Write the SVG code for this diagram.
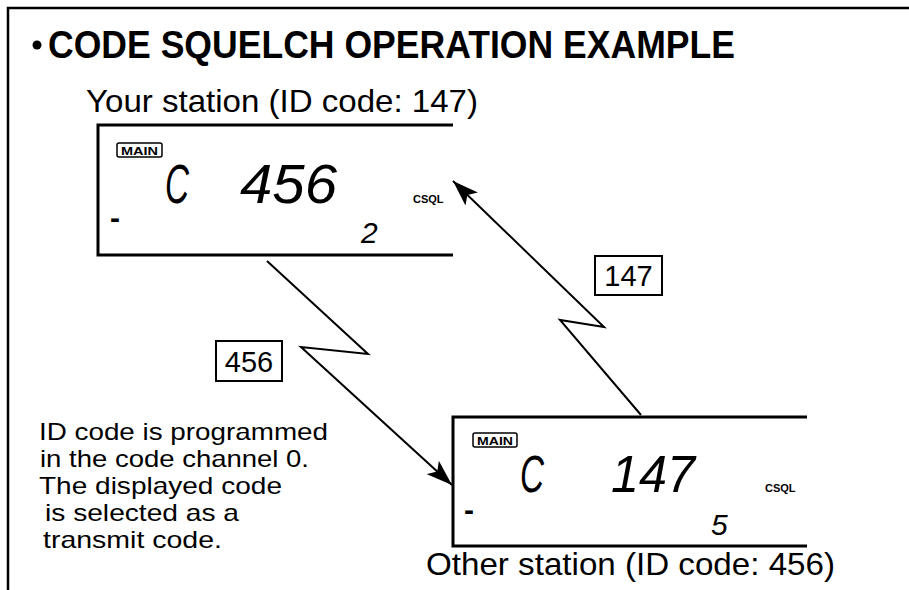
<svg xmlns="http://www.w3.org/2000/svg" width="909" height="590" viewBox="0 0 909 590">
<defs>
<style>
.frame{fill:none;stroke:#000;stroke-width:2.5}
.lcd{fill:none;stroke:#000;stroke-width:3}
.wire{fill:none;stroke:#000;stroke-width:2}
.lbl{fill:#fff;stroke:#000;stroke-width:2}
.sans{font-family:"Liberation Sans",Arial,sans-serif;fill:#000}
.seg{font-family:"Liberation Sans",Arial,sans-serif;font-style:italic;fill:#000}
.main{font-family:"Liberation Sans",Arial,sans-serif;font-weight:bold;font-size:11.5px;fill:#000}
.csql{font-family:"Liberation Sans",Arial,sans-serif;font-weight:bold;font-size:11px;fill:#000}
</style>
<marker id="ah" markerUnits="userSpaceOnUse" markerWidth="28" markerHeight="18" refX="26" refY="9" orient="auto">
<path d="M0,0 L26,9 L0,18 L6,9 Z" fill="#000"/>
</marker>
</defs>
<rect width="909" height="590" fill="#fff"/>
<path class="frame" d="M8,590 V8 H909"/>
<g id="title">
<circle cx="37" cy="45" r="4.5" fill="#000"/>
<text class="sans" x="48" y="58" font-size="38" font-weight="bold" textLength="687" lengthAdjust="spacingAndGlyphs">CODE SQUELCH OPERATION EXAMPLE</text>
</g>
<g id="your-station">
<text class="sans" x="86" y="112" font-size="32" textLength="392" lengthAdjust="spacingAndGlyphs">Your station (ID code: 147)</text>
<path class="lcd" d="M453,125 H98 V255 H453"/>
<rect x="117" y="143" width="45" height="14" rx="2" fill="none" stroke="#000" stroke-width="1.5"/>
<text class="main" x="121" y="154.5" textLength="37" lengthAdjust="spacingAndGlyphs">MAIN</text>
<text class="seg" x="165" y="203" font-size="56" textLength="24" lengthAdjust="spacingAndGlyphs">C</text>
<text class="seg" x="240" y="203" font-size="56" textLength="97" lengthAdjust="spacingAndGlyphs">456</text>
<text class="csql" x="413" y="203">CSQL</text>
<text class="sans" x="110" y="228" font-size="30" font-weight="bold">-</text>
<text class="seg" x="361" y="243" font-size="30">2</text>
</g>
<g id="other-station">
<path class="lcd" d="M807,417 H453 V546 H807"/>
<rect x="473" y="433" width="44" height="14" rx="2" fill="none" stroke="#000" stroke-width="1.5"/>
<text class="main" x="477" y="444.5" textLength="36" lengthAdjust="spacingAndGlyphs">MAIN</text>
<text class="seg" x="520" y="492" font-size="52" textLength="24" lengthAdjust="spacingAndGlyphs">C</text>
<text class="seg" x="611" y="492" font-size="52" textLength="84" lengthAdjust="spacingAndGlyphs">147</text>
<text class="csql" x="765" y="492">CSQL</text>
<text class="sans" x="464" y="520" font-size="30" font-weight="bold">-</text>
<text class="seg" x="711" y="535" font-size="30">5</text>
<text class="sans" x="426" y="575" font-size="32" textLength="409" lengthAdjust="spacingAndGlyphs">Other station (ID code: 456)</text>
</g>
<g id="connectors">
<path class="wire" d="M267,261 L368,354 L301,347 L452,485" marker-end="url(#ah)"/>
<path class="wire" d="M641,415 L560,320 L604,327 L453,181" marker-end="url(#ah)"/>
</g>
<g id="label-456">
<rect class="lbl" x="216" y="341" width="66" height="40"/>
<text class="sans" x="249" y="372" font-size="29" text-anchor="middle">456</text>
</g>
<g id="label-147">
<rect class="lbl" x="595" y="256" width="67" height="39"/>
<text class="sans" x="628.5" y="286" font-size="29" text-anchor="middle">147</text>
</g>
<g id="note">
<text class="sans" font-size="24">
<tspan x="39" y="440" textLength="289" lengthAdjust="spacingAndGlyphs">ID code is programmed</tspan>
<tspan x="40" y="467" textLength="269" lengthAdjust="spacingAndGlyphs">in the code channel 0.</tspan>
<tspan x="39" y="494" textLength="243" lengthAdjust="spacingAndGlyphs">The displayed code</tspan>
<tspan x="45" y="521" textLength="194" lengthAdjust="spacingAndGlyphs">is selected as a</tspan>
<tspan x="43" y="548" textLength="179" lengthAdjust="spacingAndGlyphs">transmit code.</tspan>
</text>
</g>
</svg>
